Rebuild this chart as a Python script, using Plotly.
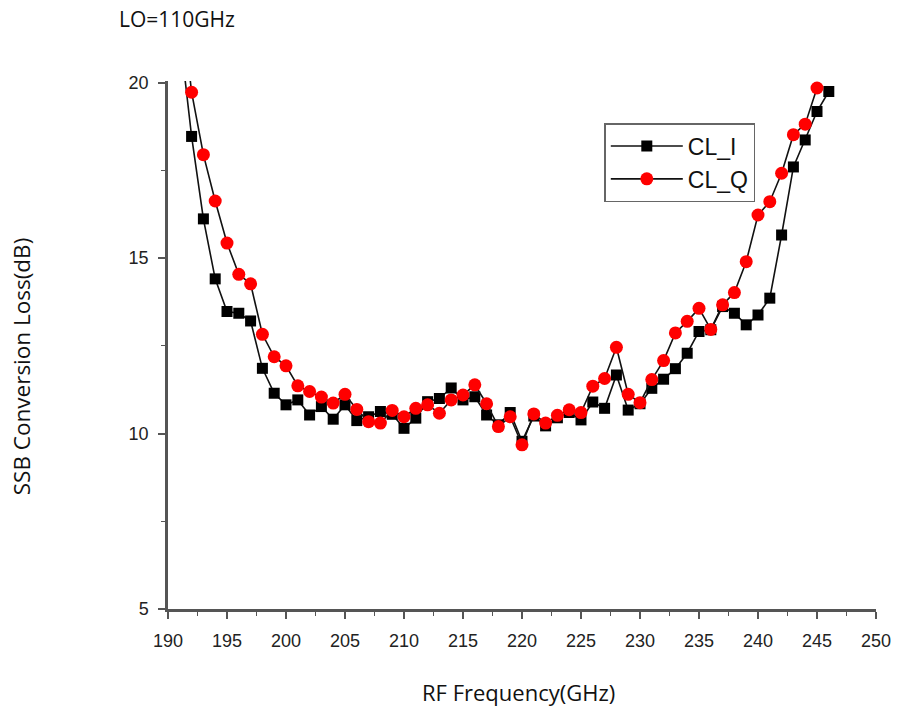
import plotly.graph_objects as go

# ---- data ----
freq_I = list(range(191, 247))
cl_I = [21.4, 18.47, 16.12, 14.41, 13.48, 13.43, 13.21, 11.86, 11.15, 10.82,
        10.96, 10.53, 10.77, 10.41, 10.82, 10.37, 10.48, 10.63, 10.55, 10.15,
        10.44, 10.91, 11.0, 11.3, 10.96, 11.05, 10.53, 10.25, 10.6, 9.78,
        10.5, 10.22, 10.45, 10.6, 10.39, 10.9, 10.72, 11.67, 10.67, 10.85,
        11.29, 11.55, 11.85, 12.29, 12.91, 12.96, 13.62, 13.43, 13.1, 13.38,
        13.86, 15.66, 17.6, 18.37, 19.18, 19.75]

freq_Q = list(range(191, 246))
cl_Q = [22.7, 19.73, 17.95, 16.63, 15.43, 14.54, 14.27, 12.83, 12.19, 11.93,
        11.36, 11.2, 11.04, 10.87, 11.12, 10.69, 10.34, 10.3, 10.66, 10.48,
        10.72, 10.82, 10.58, 10.96, 11.1, 11.39, 10.85, 10.2, 10.48, 9.68,
        10.56, 10.3, 10.52, 10.68, 10.6, 11.35, 11.57, 12.46, 11.12, 10.88,
        11.54, 12.08, 12.87, 13.2, 13.57, 12.97, 13.67, 14.02, 14.9, 16.23,
        16.61, 17.42, 18.52, 18.82, 19.85]

x_ticks = list(range(190, 251, 5))
y_ticks = [5, 10, 15, 20]

series_names = ["CL_I", "CL_Q"]
title_text = "LO=110GHz"
x_title = "RF Frequency(GHz)"
y_title = "SSB Conversion Loss(dB)"

# ---- figure ----
W, H = 903, 713
ml, mr, mt, mb = 168, 21, 81, 104

fig = go.Figure()
fig.add_trace(go.Scatter(
    x=freq_I, y=cl_I, name=series_names[0], mode="lines+markers",
    line=dict(color="#111111", width=1.6),
    marker=dict(symbol="square", size=11, color="#000000"),
    legendgroup="a"))
fig.add_trace(go.Scatter(
    x=freq_Q, y=cl_Q, name=series_names[1], mode="lines+markers",
    line=dict(color="#111111", width=1.6),
    marker=dict(symbol="circle", size=13, color="#FF0000"),
    legendgroup="b"))

axis_common = dict(
    showgrid=False, zeroline=False, showline=True, linecolor="#555555",
    linewidth=2.5, ticks="outside", tickcolor="#555555", tickwidth=1.5,
    ticklen=7, tickfont=dict(family="Liberation Sans, Arial", size=18, color="#222222"),
    mirror=False,
)

fig.update_xaxes(range=[190, 250], tickvals=x_ticks,
                 minor=dict(dtick=2.5, ticks="outside", ticklen=4,
                            tickcolor="#555555", tickwidth=1.2),
                 ticklabelstandoff=7, **axis_common)
fig.update_yaxes(range=[5, 20.05], tickvals=y_ticks,
                 minor=dict(dtick=2.5, ticks="outside", ticklen=4,
                            tickcolor="#555555", tickwidth=1.2),
                 ticklabelstandoff=6, **axis_common)

pw = W - ml - mr
ph = H - mt - mb

fig.update_layout(
    width=W, height=H,
    margin=dict(l=ml, r=mr, t=mt, b=mb, pad=0),
    paper_bgcolor="white", plot_bgcolor="white",
    showlegend=True,
    legend=dict(
        x=(608 - ml) / pw, y=1 - (123 - mt) / ph, xanchor="left", yanchor="top",
        bgcolor="white", bordercolor="#666666", borderwidth=1.5,
        font=dict(family="Liberation Sans, Arial", size=23, color="#111111"),
        itemwidth=72, tracegroupgap=0, traceorder="grouped",
    ),
    annotations=[
        dict(text=title_text, xref="paper", yref="paper",
             x=(117 - ml) / pw, y=1 + (mt - 19) / ph, xanchor="left", yanchor="middle",
             showarrow=False, font=dict(family="Open Sans", size=21, color="#111111")),
        dict(text=x_title, xref="paper", yref="paper",
             x=(521 - ml) / pw, y=-(692 - (H - mb)) / ph, xanchor="center", yanchor="middle",
             showarrow=False, font=dict(family="Open Sans", size=22, color="#111111")),
        dict(text=y_title, xref="paper", yref="paper", textangle=-90,
             x=(20 - ml) / pw, y=1 - (366 - mt) / ph, xanchor="center", yanchor="middle",
             showarrow=False, font=dict(family="Open Sans", size=22.5, color="#111111")),
    ],
)

fig.write_html("out.html")
